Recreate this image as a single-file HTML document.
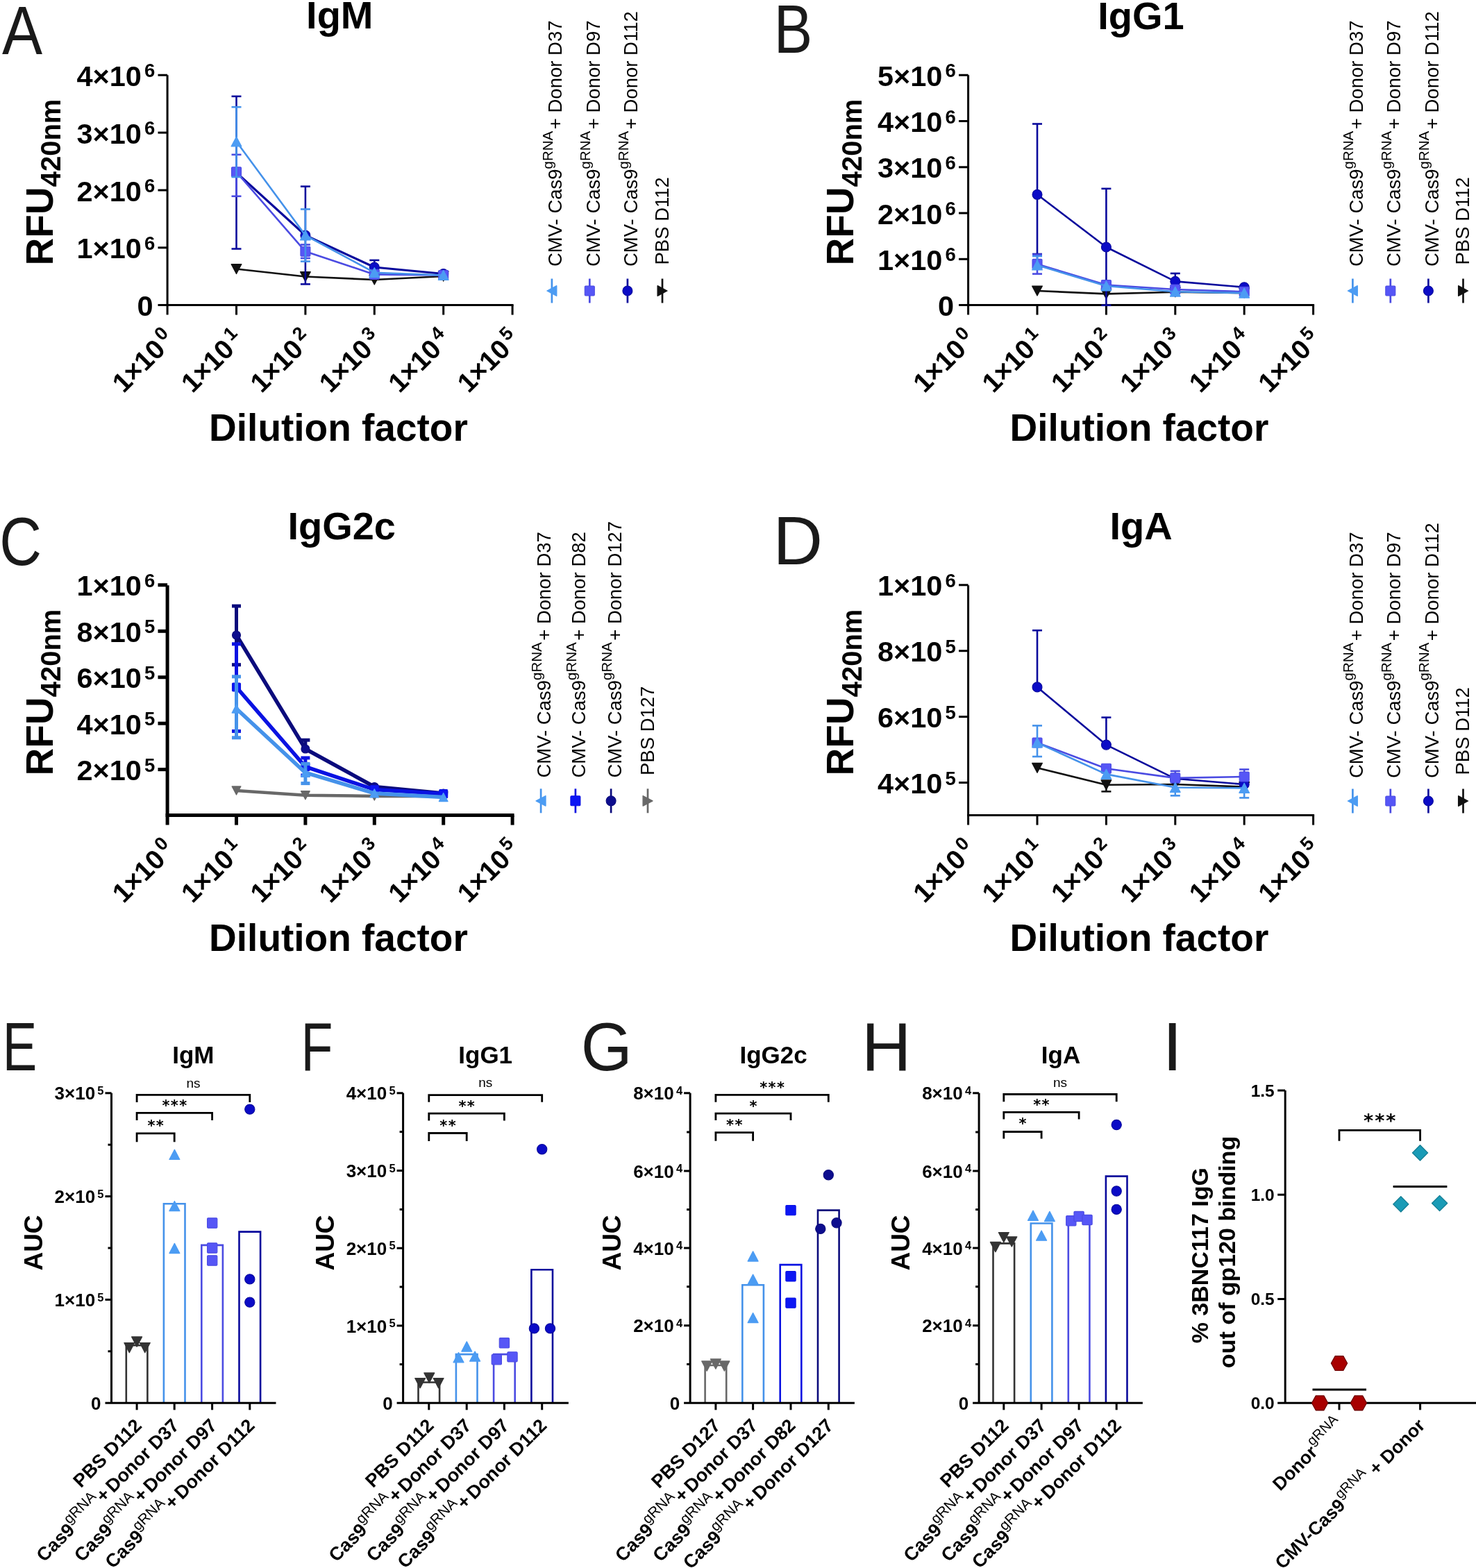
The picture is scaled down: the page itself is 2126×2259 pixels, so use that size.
<!DOCTYPE html><html><head><meta charset="utf-8"><title>Figure</title><style>html,body{margin:0;padding:0;background:#fff;overflow:hidden;}svg{display:block;}</style></head><body>
<svg width="2126" height="2259" viewBox="0 0 2126 2259" font-family='"Liberation Sans", Arial, Helvetica, sans-serif'>
<rect x="0" y="0" width="2126" height="2259" fill="#fff"/>
<text transform="translate(2.9 77.9) scale(0.88 1)" x="0" y="0" font-size="99" font-weight="normal" fill="#1a1a1a">A</text>
<text transform="translate(1114.78 76.3) scale(0.84 1)" x="0" y="0" font-size="99" font-weight="normal" fill="#1a1a1a">B</text>
<text transform="translate(-0.68 813.7) scale(0.85 1)" x="0" y="0" font-size="99" font-weight="normal" fill="#1a1a1a">C</text>
<text transform="translate(1113.47 813.4) scale(1 1)" x="0" y="0" font-size="99" font-weight="normal" fill="#1a1a1a">D</text>
<text transform="translate(3.78 1541.7) scale(0.75 1)" x="0" y="0" font-size="99" font-weight="normal" fill="#1a1a1a">E</text>
<text transform="translate(433.6 1541.7) scale(0.76 1)" x="0" y="0" font-size="99" font-weight="normal" fill="#1a1a1a">F</text>
<text transform="translate(836.74 1541.7) scale(0.96 1)" x="0" y="0" font-size="99" font-weight="normal" fill="#1a1a1a">G</text>
<text transform="translate(1240.97 1541.7) scale(1 1)" x="0" y="0" font-size="99" font-weight="normal" fill="#1a1a1a">H</text>
<text transform="translate(1674.35 1541.7) scale(1.05 1)" x="0" y="0" font-size="99" font-weight="normal" fill="#1a1a1a">I</text>
<line x1="241.1" y1="108.2" x2="241.1" y2="453.6" stroke="#000" stroke-width="3" stroke-linecap="butt"/>
<line x1="227.5" y1="439.6" x2="739.6" y2="439.6" stroke="#000" stroke-width="3" stroke-linecap="butt"/>
<line x1="340.5" y1="439.6" x2="340.5" y2="453.6" stroke="#000" stroke-width="3" stroke-linecap="butt"/>
<line x1="439.9" y1="439.6" x2="439.9" y2="453.6" stroke="#000" stroke-width="3" stroke-linecap="butt"/>
<line x1="539.3" y1="439.6" x2="539.3" y2="453.6" stroke="#000" stroke-width="3" stroke-linecap="butt"/>
<line x1="638.7" y1="439.6" x2="638.7" y2="453.6" stroke="#000" stroke-width="3" stroke-linecap="butt"/>
<line x1="738.1" y1="439.6" x2="738.1" y2="453.6" stroke="#000" stroke-width="3" stroke-linecap="butt"/>
<line x1="227.5" y1="108.2" x2="241.1" y2="108.2" stroke="#000" stroke-width="3" stroke-linecap="butt"/>
<text x="223.4" y="123.8" font-size="41.5" font-weight="bold" text-anchor="end">4×10<tspan font-size="27.5" dx="4.2" dy="-12.6">6</tspan></text>
<line x1="227.5" y1="191.1" x2="241.1" y2="191.1" stroke="#000" stroke-width="3" stroke-linecap="butt"/>
<text x="223.4" y="206.7" font-size="41.5" font-weight="bold" text-anchor="end">3×10<tspan font-size="27.5" dx="4.2" dy="-12.6">6</tspan></text>
<line x1="227.5" y1="274" x2="241.1" y2="274" stroke="#000" stroke-width="3" stroke-linecap="butt"/>
<text x="223.4" y="289.6" font-size="41.5" font-weight="bold" text-anchor="end">2×10<tspan font-size="27.5" dx="4.2" dy="-12.6">6</tspan></text>
<line x1="227.5" y1="356.8" x2="241.1" y2="356.8" stroke="#000" stroke-width="3" stroke-linecap="butt"/>
<text x="223.4" y="372.4" font-size="41.5" font-weight="bold" text-anchor="end">1×10<tspan font-size="27.5" dx="4.2" dy="-12.6">6</tspan></text>
<text x="220.5" y="455.2" font-size="41.5" font-weight="bold" text-anchor="end" fill="#000">0</text>
<g transform="translate(253.9 491.6) rotate(-45)"><text x="0" y="0" font-size="39" font-weight="bold" text-anchor="end">1×10<tspan font-size="27" dx="4.6" dy="-14.2">0</tspan></text></g>
<g transform="translate(353.3 491.6) rotate(-45)"><text x="0" y="0" font-size="39" font-weight="bold" text-anchor="end">1×10<tspan font-size="27" dx="4.6" dy="-14.2">1</tspan></text></g>
<g transform="translate(452.7 491.6) rotate(-45)"><text x="0" y="0" font-size="39" font-weight="bold" text-anchor="end">1×10<tspan font-size="27" dx="4.6" dy="-14.2">2</tspan></text></g>
<g transform="translate(552.1 491.6) rotate(-45)"><text x="0" y="0" font-size="39" font-weight="bold" text-anchor="end">1×10<tspan font-size="27" dx="4.6" dy="-14.2">3</tspan></text></g>
<g transform="translate(651.5 491.6) rotate(-45)"><text x="0" y="0" font-size="39" font-weight="bold" text-anchor="end">1×10<tspan font-size="27" dx="4.6" dy="-14.2">4</tspan></text></g>
<g transform="translate(750.9 491.6) rotate(-45)"><text x="0" y="0" font-size="39" font-weight="bold" text-anchor="end">1×10<tspan font-size="27" dx="4.6" dy="-14.2">5</tspan></text></g>
<g transform="translate(75.5 262.5) rotate(-90)"><text x="0" y="0" font-size="55" font-weight="bold" text-anchor="middle">RFU<tspan font-size="40" dy="11.5">420nm</tspan></text></g>
<text x="487.5" y="635.2" font-size="55" font-weight="bold" text-anchor="middle" fill="#000">Dilution factor</text>
<text x="489.3" y="40.6" font-size="56" font-weight="bold" text-anchor="middle" fill="#000">IgM</text>
<polyline points="340.5,387.5 439.9,398.5 539.3,403 638.7,398" fill="none" stroke="#111111" stroke-width="2.6" stroke-linejoin="round"/>
<polygon points="340.5,394.5 347.8,380.6 333.2,380.6" fill="#111111" stroke="#111111" stroke-width="1.3" stroke-linejoin="round"/>
<polygon points="439.9,405.5 447.2,391.6 432.6,391.6" fill="#111111" stroke="#111111" stroke-width="1.3" stroke-linejoin="round"/>
<polygon points="539.3,410 546.6,396.1 532,396.1" fill="#111111" stroke="#111111" stroke-width="1.3" stroke-linejoin="round"/>
<polygon points="638.7,405 646,391.1 631.4,391.1" fill="#111111" stroke="#111111" stroke-width="1.3" stroke-linejoin="round"/>
<line x1="340.5" y1="248.6" x2="340.5" y2="138.8" stroke="#0a0a9c" stroke-width="2.6" stroke-linecap="butt"/>
<line x1="333.5" y1="138.8" x2="347.5" y2="138.8" stroke="#0a0a9c" stroke-width="2.6" stroke-linecap="butt"/>
<line x1="340.5" y1="248.6" x2="340.5" y2="358.5" stroke="#0a0a9c" stroke-width="2.6" stroke-linecap="butt"/>
<line x1="333.5" y1="358.5" x2="347.5" y2="358.5" stroke="#0a0a9c" stroke-width="2.6" stroke-linecap="butt"/>
<line x1="439.9" y1="339" x2="439.9" y2="268.6" stroke="#0a0a9c" stroke-width="2.6" stroke-linecap="butt"/>
<line x1="432.9" y1="268.6" x2="446.9" y2="268.6" stroke="#0a0a9c" stroke-width="2.6" stroke-linecap="butt"/>
<line x1="439.9" y1="339" x2="439.9" y2="409.4" stroke="#0a0a9c" stroke-width="2.6" stroke-linecap="butt"/>
<line x1="432.9" y1="409.4" x2="446.9" y2="409.4" stroke="#0a0a9c" stroke-width="2.6" stroke-linecap="butt"/>
<line x1="539.3" y1="385" x2="539.3" y2="374.9" stroke="#0a0a9c" stroke-width="2.6" stroke-linecap="butt"/>
<line x1="532.3" y1="374.9" x2="546.3" y2="374.9" stroke="#0a0a9c" stroke-width="2.6" stroke-linecap="butt"/>
<polyline points="340.5,248.6 439.9,339 539.3,385 638.7,394.5" fill="none" stroke="#0a0a9c" stroke-width="3.2" stroke-linejoin="round"/>
<circle cx="340.5" cy="248.6" r="7" fill="#0b0bc6" stroke="#0a0a9c" stroke-width="1.1" stroke-linejoin="round"/>
<circle cx="439.9" cy="339" r="7" fill="#0b0bc6" stroke="#0a0a9c" stroke-width="1.1" stroke-linejoin="round"/>
<circle cx="539.3" cy="385" r="7" fill="#0b0bc6" stroke="#0a0a9c" stroke-width="1.1" stroke-linejoin="round"/>
<circle cx="638.7" cy="394.5" r="7" fill="#0b0bc6" stroke="#0a0a9c" stroke-width="1.1" stroke-linejoin="round"/>
<line x1="340.5" y1="247.8" x2="340.5" y2="222.8" stroke="#4b4be2" stroke-width="2.6" stroke-linecap="butt"/>
<line x1="333.5" y1="222.8" x2="347.5" y2="222.8" stroke="#4b4be2" stroke-width="2.6" stroke-linecap="butt"/>
<line x1="340.5" y1="247.8" x2="340.5" y2="282.7" stroke="#4b4be2" stroke-width="2.6" stroke-linecap="butt"/>
<line x1="333.5" y1="282.7" x2="347.5" y2="282.7" stroke="#4b4be2" stroke-width="2.6" stroke-linecap="butt"/>
<line x1="439.9" y1="362.3" x2="439.9" y2="352.5" stroke="#4b4be2" stroke-width="2.6" stroke-linecap="butt"/>
<line x1="432.9" y1="352.5" x2="446.9" y2="352.5" stroke="#4b4be2" stroke-width="2.6" stroke-linecap="butt"/>
<line x1="439.9" y1="362.3" x2="439.9" y2="372" stroke="#4b4be2" stroke-width="2.6" stroke-linecap="butt"/>
<line x1="432.9" y1="372" x2="446.9" y2="372" stroke="#4b4be2" stroke-width="2.6" stroke-linecap="butt"/>
<polyline points="340.5,247.8 439.9,362.3 539.3,395.4 638.7,396.5" fill="none" stroke="#4b4be2" stroke-width="2.6" stroke-linejoin="round"/>
<rect x="333.5" y="240.8" width="14" height="14" rx="1.2" fill="#5656f6" stroke="#4b4be2" stroke-width="1.1" stroke-linejoin="round"/>
<rect x="432.9" y="355.3" width="14" height="14" rx="1.2" fill="#5656f6" stroke="#4b4be2" stroke-width="1.1" stroke-linejoin="round"/>
<rect x="532.3" y="388.4" width="14" height="14" rx="1.2" fill="#5656f6" stroke="#4b4be2" stroke-width="1.1" stroke-linejoin="round"/>
<rect x="631.7" y="389.5" width="14" height="14" rx="1.2" fill="#5656f6" stroke="#4b4be2" stroke-width="1.1" stroke-linejoin="round"/>
<line x1="340.5" y1="204" x2="340.5" y2="154.2" stroke="#4592ea" stroke-width="2.6" stroke-linecap="butt"/>
<line x1="333.5" y1="154.2" x2="347.5" y2="154.2" stroke="#4592ea" stroke-width="2.6" stroke-linecap="butt"/>
<line x1="340.5" y1="204" x2="340.5" y2="255" stroke="#4592ea" stroke-width="2.6" stroke-linecap="butt"/>
<line x1="333.5" y1="255" x2="347.5" y2="255" stroke="#4592ea" stroke-width="2.6" stroke-linecap="butt"/>
<line x1="439.9" y1="339" x2="439.9" y2="301.4" stroke="#4592ea" stroke-width="2.6" stroke-linecap="butt"/>
<line x1="432.9" y1="301.4" x2="446.9" y2="301.4" stroke="#4592ea" stroke-width="2.6" stroke-linecap="butt"/>
<line x1="439.9" y1="339" x2="439.9" y2="376.6" stroke="#4592ea" stroke-width="2.6" stroke-linecap="butt"/>
<line x1="432.9" y1="376.6" x2="446.9" y2="376.6" stroke="#4592ea" stroke-width="2.6" stroke-linecap="butt"/>
<polyline points="340.5,204 439.9,339 539.3,392.7 638.7,396.5" fill="none" stroke="#4592ea" stroke-width="2.6" stroke-linejoin="round"/>
<polygon points="340.5,197 347.8,210.9 333.2,210.9" fill="#4c9cf3" stroke="#4c9cf3" stroke-width="1.3" stroke-linejoin="round"/>
<polygon points="439.9,332 447.2,345.9 432.6,345.9" fill="#4c9cf3" stroke="#4c9cf3" stroke-width="1.3" stroke-linejoin="round"/>
<polygon points="539.3,385.7 546.6,399.6 532,399.6" fill="#4c9cf3" stroke="#4c9cf3" stroke-width="1.3" stroke-linejoin="round"/>
<polygon points="638.7,389.5 646,403.4 631.4,403.4" fill="#4c9cf3" stroke="#4c9cf3" stroke-width="1.3" stroke-linejoin="round"/>
<line x1="794.9" y1="401.5" x2="794.9" y2="436.5" stroke="#4592ea" stroke-width="2.7" stroke-linecap="butt"/>
<polygon points="794.9,412 802.2,425.9 787.6,425.9" fill="#4c9cf3" stroke="#4c9cf3" stroke-width="1.3" stroke-linejoin="round" transform="rotate(-90 794.9 419)"/>
<g transform="translate(809.4 384) rotate(-90)"><text x="0" y="0" font-size="27.5" font-weight="normal">CMV- Cas9<tspan font-size="20.5" dy="-13.5">gRNA</tspan><tspan dy="13.5" dx="2.5">+ Donor D37</tspan></text></g>
<line x1="849.3" y1="401.5" x2="849.3" y2="436.5" stroke="#4b4be2" stroke-width="2.7" stroke-linecap="butt"/>
<rect x="842.3" y="412" width="14" height="14" rx="1.2" fill="#5656f6" stroke="#4b4be2" stroke-width="1.1" stroke-linejoin="round"/>
<g transform="translate(863.7 384) rotate(-90)"><text x="0" y="0" font-size="27.5" font-weight="normal">CMV- Cas9<tspan font-size="20.5" dy="-13.5">gRNA</tspan><tspan dy="13.5" dx="2.5">+ Donor D97</tspan></text></g>
<line x1="903.9" y1="401.5" x2="903.9" y2="436.5" stroke="#0a0a9c" stroke-width="2.7" stroke-linecap="butt"/>
<circle cx="903.9" cy="419" r="7" fill="#0b0bc6" stroke="#0a0a9c" stroke-width="1.1" stroke-linejoin="round"/>
<g transform="translate(918.1 384) rotate(-90)"><text x="0" y="0" font-size="27.5" font-weight="normal">CMV- Cas9<tspan font-size="20.5" dy="-13.5">gRNA</tspan><tspan dy="13.5" dx="2.5">+ Donor D112</tspan></text></g>
<line x1="954" y1="401.5" x2="954" y2="436.5" stroke="#111111" stroke-width="2.7" stroke-linecap="butt"/>
<polygon points="954,426 961.3,412.1 946.7,412.1" fill="#111111" stroke="#111111" stroke-width="1.3" stroke-linejoin="round" transform="rotate(-90 954 419)"/>
<g transform="translate(962.6 381.5) rotate(-90)"><text x="0" y="0" font-size="27.5" font-weight="normal">PBS D112</text></g>
<line x1="1394.6" y1="108.2" x2="1394.6" y2="453.6" stroke="#000" stroke-width="3" stroke-linecap="butt"/>
<line x1="1381" y1="439.6" x2="1893.1" y2="439.6" stroke="#000" stroke-width="3" stroke-linecap="butt"/>
<line x1="1494" y1="439.6" x2="1494" y2="453.6" stroke="#000" stroke-width="3" stroke-linecap="butt"/>
<line x1="1593.4" y1="439.6" x2="1593.4" y2="453.6" stroke="#000" stroke-width="3" stroke-linecap="butt"/>
<line x1="1692.8" y1="439.6" x2="1692.8" y2="453.6" stroke="#000" stroke-width="3" stroke-linecap="butt"/>
<line x1="1792.2" y1="439.6" x2="1792.2" y2="453.6" stroke="#000" stroke-width="3" stroke-linecap="butt"/>
<line x1="1891.6" y1="439.6" x2="1891.6" y2="453.6" stroke="#000" stroke-width="3" stroke-linecap="butt"/>
<line x1="1381" y1="108.2" x2="1394.6" y2="108.2" stroke="#000" stroke-width="3" stroke-linecap="butt"/>
<text x="1376.9" y="123.8" font-size="41.5" font-weight="bold" text-anchor="end">5×10<tspan font-size="27.5" dx="4.2" dy="-12.6">6</tspan></text>
<line x1="1381" y1="174.5" x2="1394.6" y2="174.5" stroke="#000" stroke-width="3" stroke-linecap="butt"/>
<text x="1376.9" y="190.1" font-size="41.5" font-weight="bold" text-anchor="end">4×10<tspan font-size="27.5" dx="4.2" dy="-12.6">6</tspan></text>
<line x1="1381" y1="240.8" x2="1394.6" y2="240.8" stroke="#000" stroke-width="3" stroke-linecap="butt"/>
<text x="1376.9" y="256.4" font-size="41.5" font-weight="bold" text-anchor="end">3×10<tspan font-size="27.5" dx="4.2" dy="-12.6">6</tspan></text>
<line x1="1381" y1="307" x2="1394.6" y2="307" stroke="#000" stroke-width="3" stroke-linecap="butt"/>
<text x="1376.9" y="322.6" font-size="41.5" font-weight="bold" text-anchor="end">2×10<tspan font-size="27.5" dx="4.2" dy="-12.6">6</tspan></text>
<line x1="1381" y1="373.3" x2="1394.6" y2="373.3" stroke="#000" stroke-width="3" stroke-linecap="butt"/>
<text x="1376.9" y="388.9" font-size="41.5" font-weight="bold" text-anchor="end">1×10<tspan font-size="27.5" dx="4.2" dy="-12.6">6</tspan></text>
<text x="1374" y="455.2" font-size="41.5" font-weight="bold" text-anchor="end" fill="#000">0</text>
<g transform="translate(1407.4 491.6) rotate(-45)"><text x="0" y="0" font-size="39" font-weight="bold" text-anchor="end">1×10<tspan font-size="27" dx="4.6" dy="-14.2">0</tspan></text></g>
<g transform="translate(1506.8 491.6) rotate(-45)"><text x="0" y="0" font-size="39" font-weight="bold" text-anchor="end">1×10<tspan font-size="27" dx="4.6" dy="-14.2">1</tspan></text></g>
<g transform="translate(1606.2 491.6) rotate(-45)"><text x="0" y="0" font-size="39" font-weight="bold" text-anchor="end">1×10<tspan font-size="27" dx="4.6" dy="-14.2">2</tspan></text></g>
<g transform="translate(1705.6 491.6) rotate(-45)"><text x="0" y="0" font-size="39" font-weight="bold" text-anchor="end">1×10<tspan font-size="27" dx="4.6" dy="-14.2">3</tspan></text></g>
<g transform="translate(1805 491.6) rotate(-45)"><text x="0" y="0" font-size="39" font-weight="bold" text-anchor="end">1×10<tspan font-size="27" dx="4.6" dy="-14.2">4</tspan></text></g>
<g transform="translate(1904.4 491.6) rotate(-45)"><text x="0" y="0" font-size="39" font-weight="bold" text-anchor="end">1×10<tspan font-size="27" dx="4.6" dy="-14.2">5</tspan></text></g>
<g transform="translate(1229 262.5) rotate(-90)"><text x="0" y="0" font-size="55" font-weight="bold" text-anchor="middle">RFU<tspan font-size="40" dy="11.5">420nm</tspan></text></g>
<text x="1641" y="635.2" font-size="55" font-weight="bold" text-anchor="middle" fill="#000">Dilution factor</text>
<text x="1643.5" y="41.7" font-size="56" font-weight="bold" text-anchor="middle" fill="#000">IgG1</text>
<polyline points="1494,419 1593.4,423.4 1692.8,420.8 1792.2,422" fill="none" stroke="#111111" stroke-width="2.6" stroke-linejoin="round"/>
<polygon points="1494,426 1501.3,412.1 1486.7,412.1" fill="#111111" stroke="#111111" stroke-width="1.3" stroke-linejoin="round"/>
<polygon points="1593.4,430.4 1600.7,416.5 1586.1,416.5" fill="#111111" stroke="#111111" stroke-width="1.3" stroke-linejoin="round"/>
<polygon points="1692.8,427.8 1700.1,413.9 1685.5,413.9" fill="#111111" stroke="#111111" stroke-width="1.3" stroke-linejoin="round"/>
<polygon points="1792.2,429 1799.5,415.1 1784.9,415.1" fill="#111111" stroke="#111111" stroke-width="1.3" stroke-linejoin="round"/>
<line x1="1494" y1="280.3" x2="1494" y2="178.5" stroke="#0a0a9c" stroke-width="2.6" stroke-linecap="butt"/>
<line x1="1487" y1="178.5" x2="1501" y2="178.5" stroke="#0a0a9c" stroke-width="2.6" stroke-linecap="butt"/>
<line x1="1494" y1="280.3" x2="1494" y2="366" stroke="#0a0a9c" stroke-width="2.6" stroke-linecap="butt"/>
<line x1="1487" y1="366" x2="1501" y2="366" stroke="#0a0a9c" stroke-width="2.6" stroke-linecap="butt"/>
<line x1="1593.4" y1="356" x2="1593.4" y2="271.8" stroke="#0a0a9c" stroke-width="2.6" stroke-linecap="butt"/>
<line x1="1586.4" y1="271.8" x2="1600.4" y2="271.8" stroke="#0a0a9c" stroke-width="2.6" stroke-linecap="butt"/>
<line x1="1593.4" y1="356" x2="1593.4" y2="439.8" stroke="#0a0a9c" stroke-width="2.6" stroke-linecap="butt"/>
<line x1="1586.4" y1="439.8" x2="1600.4" y2="439.8" stroke="#0a0a9c" stroke-width="2.6" stroke-linecap="butt"/>
<line x1="1692.8" y1="405.4" x2="1692.8" y2="393.9" stroke="#0a0a9c" stroke-width="2.6" stroke-linecap="butt"/>
<line x1="1685.8" y1="393.9" x2="1699.8" y2="393.9" stroke="#0a0a9c" stroke-width="2.6" stroke-linecap="butt"/>
<polyline points="1494,280.3 1593.4,356 1692.8,405.4 1792.2,413.8" fill="none" stroke="#0a0a9c" stroke-width="2.6" stroke-linejoin="round"/>
<circle cx="1494" cy="280.3" r="7" fill="#0b0bc6" stroke="#0a0a9c" stroke-width="1.1" stroke-linejoin="round"/>
<circle cx="1593.4" cy="356" r="7" fill="#0b0bc6" stroke="#0a0a9c" stroke-width="1.1" stroke-linejoin="round"/>
<circle cx="1692.8" cy="405.4" r="7" fill="#0b0bc6" stroke="#0a0a9c" stroke-width="1.1" stroke-linejoin="round"/>
<circle cx="1792.2" cy="413.8" r="7" fill="#0b0bc6" stroke="#0a0a9c" stroke-width="1.1" stroke-linejoin="round"/>
<line x1="1494" y1="380.4" x2="1494" y2="366.7" stroke="#4b4be2" stroke-width="2.6" stroke-linecap="butt"/>
<line x1="1487" y1="366.7" x2="1501" y2="366.7" stroke="#4b4be2" stroke-width="2.6" stroke-linecap="butt"/>
<line x1="1494" y1="380.4" x2="1494" y2="394.6" stroke="#4b4be2" stroke-width="2.6" stroke-linecap="butt"/>
<line x1="1487" y1="394.6" x2="1501" y2="394.6" stroke="#4b4be2" stroke-width="2.6" stroke-linecap="butt"/>
<polyline points="1494,380.4 1593.4,410.5 1692.8,417 1792.2,420.2" fill="none" stroke="#4b4be2" stroke-width="2.6" stroke-linejoin="round"/>
<rect x="1487" y="373.4" width="14" height="14" rx="1.2" fill="#5656f6" stroke="#4b4be2" stroke-width="1.1" stroke-linejoin="round"/>
<rect x="1586.4" y="403.5" width="14" height="14" rx="1.2" fill="#5656f6" stroke="#4b4be2" stroke-width="1.1" stroke-linejoin="round"/>
<rect x="1685.8" y="410" width="14" height="14" rx="1.2" fill="#5656f6" stroke="#4b4be2" stroke-width="1.1" stroke-linejoin="round"/>
<rect x="1785.2" y="413.2" width="14" height="14" rx="1.2" fill="#5656f6" stroke="#4b4be2" stroke-width="1.1" stroke-linejoin="round"/>
<line x1="1494" y1="382" x2="1494" y2="369" stroke="#4592ea" stroke-width="2.6" stroke-linecap="butt"/>
<line x1="1487" y1="369" x2="1501" y2="369" stroke="#4592ea" stroke-width="2.6" stroke-linecap="butt"/>
<polyline points="1494,382 1593.4,412 1692.8,420.2 1792.2,422.1" fill="none" stroke="#4592ea" stroke-width="2.6" stroke-linejoin="round"/>
<polygon points="1494,375 1501.3,388.9 1486.7,388.9" fill="#4c9cf3" stroke="#4c9cf3" stroke-width="1.3" stroke-linejoin="round"/>
<polygon points="1593.4,405 1600.7,418.9 1586.1,418.9" fill="#4c9cf3" stroke="#4c9cf3" stroke-width="1.3" stroke-linejoin="round"/>
<polygon points="1692.8,413.2 1700.1,427.1 1685.5,427.1" fill="#4c9cf3" stroke="#4c9cf3" stroke-width="1.3" stroke-linejoin="round"/>
<polygon points="1792.2,415.1 1799.5,429 1784.9,429" fill="#4c9cf3" stroke="#4c9cf3" stroke-width="1.3" stroke-linejoin="round"/>
<line x1="1948.4" y1="401.5" x2="1948.4" y2="436.5" stroke="#4592ea" stroke-width="2.7" stroke-linecap="butt"/>
<polygon points="1948.4,412 1955.7,425.9 1941.1,425.9" fill="#4c9cf3" stroke="#4c9cf3" stroke-width="1.3" stroke-linejoin="round" transform="rotate(-90 1948.4 419)"/>
<g transform="translate(1962.9 384) rotate(-90)"><text x="0" y="0" font-size="27.5" font-weight="normal">CMV- Cas9<tspan font-size="20.5" dy="-13.5">gRNA</tspan><tspan dy="13.5" dx="2.5">+ Donor D37</tspan></text></g>
<line x1="2002.8" y1="401.5" x2="2002.8" y2="436.5" stroke="#4b4be2" stroke-width="2.7" stroke-linecap="butt"/>
<rect x="1995.8" y="412" width="14" height="14" rx="1.2" fill="#5656f6" stroke="#4b4be2" stroke-width="1.1" stroke-linejoin="round"/>
<g transform="translate(2017.2 384) rotate(-90)"><text x="0" y="0" font-size="27.5" font-weight="normal">CMV- Cas9<tspan font-size="20.5" dy="-13.5">gRNA</tspan><tspan dy="13.5" dx="2.5">+ Donor D97</tspan></text></g>
<line x1="2057.4" y1="401.5" x2="2057.4" y2="436.5" stroke="#0a0a9c" stroke-width="2.7" stroke-linecap="butt"/>
<circle cx="2057.4" cy="419" r="7" fill="#0b0bc6" stroke="#0a0a9c" stroke-width="1.1" stroke-linejoin="round"/>
<g transform="translate(2071.6 384) rotate(-90)"><text x="0" y="0" font-size="27.5" font-weight="normal">CMV- Cas9<tspan font-size="20.5" dy="-13.5">gRNA</tspan><tspan dy="13.5" dx="2.5">+ Donor D112</tspan></text></g>
<line x1="2107.5" y1="401.5" x2="2107.5" y2="436.5" stroke="#111111" stroke-width="2.7" stroke-linecap="butt"/>
<polygon points="2107.5,426 2114.8,412.1 2100.2,412.1" fill="#111111" stroke="#111111" stroke-width="1.3" stroke-linejoin="round" transform="rotate(-90 2107.5 419)"/>
<g transform="translate(2116.1 381.5) rotate(-90)"><text x="0" y="0" font-size="27.5" font-weight="normal">PBS D112</text></g>
<line x1="241.1" y1="843.2" x2="241.1" y2="1188.6" stroke="#000" stroke-width="5" stroke-linecap="butt"/>
<line x1="238.6" y1="1174.6" x2="740.6" y2="1174.6" stroke="#000" stroke-width="5" stroke-linecap="butt"/>
<line x1="340.5" y1="1174.6" x2="340.5" y2="1188.6" stroke="#000" stroke-width="5" stroke-linecap="butt"/>
<line x1="439.9" y1="1174.6" x2="439.9" y2="1188.6" stroke="#000" stroke-width="5" stroke-linecap="butt"/>
<line x1="539.3" y1="1174.6" x2="539.3" y2="1188.6" stroke="#000" stroke-width="5" stroke-linecap="butt"/>
<line x1="638.7" y1="1174.6" x2="638.7" y2="1188.6" stroke="#000" stroke-width="5" stroke-linecap="butt"/>
<line x1="738.1" y1="1174.6" x2="738.1" y2="1188.6" stroke="#000" stroke-width="5" stroke-linecap="butt"/>
<line x1="227.5" y1="842.8" x2="241.1" y2="842.8" stroke="#000" stroke-width="5" stroke-linecap="butt"/>
<text x="223.4" y="858.4" font-size="41.5" font-weight="bold" text-anchor="end">1×10<tspan font-size="27.5" dx="4.2" dy="-12.6">6</tspan></text>
<line x1="227.5" y1="909.3" x2="241.1" y2="909.3" stroke="#000" stroke-width="5" stroke-linecap="butt"/>
<text x="223.4" y="924.9" font-size="41.5" font-weight="bold" text-anchor="end">8×10<tspan font-size="27.5" dx="4.2" dy="-12.6">5</tspan></text>
<line x1="227.5" y1="975.7" x2="241.1" y2="975.7" stroke="#000" stroke-width="5" stroke-linecap="butt"/>
<text x="223.4" y="991.3" font-size="41.5" font-weight="bold" text-anchor="end">6×10<tspan font-size="27.5" dx="4.2" dy="-12.6">5</tspan></text>
<line x1="227.5" y1="1042.2" x2="241.1" y2="1042.2" stroke="#000" stroke-width="5" stroke-linecap="butt"/>
<text x="223.4" y="1057.8" font-size="41.5" font-weight="bold" text-anchor="end">4×10<tspan font-size="27.5" dx="4.2" dy="-12.6">5</tspan></text>
<line x1="227.5" y1="1108.6" x2="241.1" y2="1108.6" stroke="#000" stroke-width="5" stroke-linecap="butt"/>
<text x="223.4" y="1124.2" font-size="41.5" font-weight="bold" text-anchor="end">2×10<tspan font-size="27.5" dx="4.2" dy="-12.6">5</tspan></text>
<g transform="translate(253.9 1226.6) rotate(-45)"><text x="0" y="0" font-size="39" font-weight="bold" text-anchor="end">1×10<tspan font-size="27" dx="4.6" dy="-14.2">0</tspan></text></g>
<g transform="translate(353.3 1226.6) rotate(-45)"><text x="0" y="0" font-size="39" font-weight="bold" text-anchor="end">1×10<tspan font-size="27" dx="4.6" dy="-14.2">1</tspan></text></g>
<g transform="translate(452.7 1226.6) rotate(-45)"><text x="0" y="0" font-size="39" font-weight="bold" text-anchor="end">1×10<tspan font-size="27" dx="4.6" dy="-14.2">2</tspan></text></g>
<g transform="translate(552.1 1226.6) rotate(-45)"><text x="0" y="0" font-size="39" font-weight="bold" text-anchor="end">1×10<tspan font-size="27" dx="4.6" dy="-14.2">3</tspan></text></g>
<g transform="translate(651.5 1226.6) rotate(-45)"><text x="0" y="0" font-size="39" font-weight="bold" text-anchor="end">1×10<tspan font-size="27" dx="4.6" dy="-14.2">4</tspan></text></g>
<g transform="translate(750.9 1226.6) rotate(-45)"><text x="0" y="0" font-size="39" font-weight="bold" text-anchor="end">1×10<tspan font-size="27" dx="4.6" dy="-14.2">5</tspan></text></g>
<g transform="translate(75.5 997.5) rotate(-90)"><text x="0" y="0" font-size="55" font-weight="bold" text-anchor="middle">RFU<tspan font-size="40" dy="11.5">420nm</tspan></text></g>
<text x="487.5" y="1370.2" font-size="55" font-weight="bold" text-anchor="middle" fill="#000">Dilution factor</text>
<text x="492.2" y="776.5" font-size="56" font-weight="bold" text-anchor="middle" fill="#000">IgG2c</text>
<polyline points="340.5,1138.9 439.9,1145.7 539.3,1146.9 638.7,1146.9" fill="none" stroke="#686868" stroke-width="4.5" stroke-linejoin="round"/>
<polygon points="340.5,1144.97 346.83,1132.92 334.17,1132.92" fill="#686868" stroke="#686868" stroke-width="1.3" stroke-linejoin="round"/>
<polygon points="439.9,1151.77 446.23,1139.72 433.57,1139.72" fill="#686868" stroke="#686868" stroke-width="1.3" stroke-linejoin="round"/>
<polygon points="539.3,1152.97 545.63,1140.92 532.97,1140.92" fill="#686868" stroke="#686868" stroke-width="1.3" stroke-linejoin="round"/>
<polygon points="638.7,1152.97 645.03,1140.92 632.37,1140.92" fill="#686868" stroke="#686868" stroke-width="1.3" stroke-linejoin="round"/>
<line x1="340.5" y1="915" x2="340.5" y2="873.1" stroke="#0b0b7c" stroke-width="5" stroke-linecap="butt"/>
<line x1="334" y1="873.1" x2="347" y2="873.1" stroke="#0b0b7c" stroke-width="5" stroke-linecap="butt"/>
<line x1="340.5" y1="915" x2="340.5" y2="957.7" stroke="#0b0b7c" stroke-width="5" stroke-linecap="butt"/>
<line x1="334" y1="957.7" x2="347" y2="957.7" stroke="#0b0b7c" stroke-width="5" stroke-linecap="butt"/>
<line x1="439.9" y1="1079" x2="439.9" y2="1066.2" stroke="#0b0b7c" stroke-width="5" stroke-linecap="butt"/>
<line x1="433.4" y1="1066.2" x2="446.4" y2="1066.2" stroke="#0b0b7c" stroke-width="5" stroke-linecap="butt"/>
<polyline points="340.5,915 439.9,1079 539.3,1133.5 638.7,1143" fill="none" stroke="#0b0b7c" stroke-width="5.5" stroke-linejoin="round"/>
<circle cx="340.5" cy="915" r="6" fill="#0d0d8e" stroke="#0b0b7c" stroke-width="1.1" stroke-linejoin="round"/>
<circle cx="439.9" cy="1079" r="6" fill="#0d0d8e" stroke="#0b0b7c" stroke-width="1.1" stroke-linejoin="round"/>
<circle cx="539.3" cy="1133.5" r="6" fill="#0d0d8e" stroke="#0b0b7c" stroke-width="1.1" stroke-linejoin="round"/>
<circle cx="638.7" cy="1143" r="6" fill="#0d0d8e" stroke="#0b0b7c" stroke-width="1.1" stroke-linejoin="round"/>
<line x1="340.5" y1="990" x2="340.5" y2="927.8" stroke="#0a12e2" stroke-width="5" stroke-linecap="butt"/>
<line x1="334" y1="927.8" x2="347" y2="927.8" stroke="#0a12e2" stroke-width="5" stroke-linecap="butt"/>
<line x1="340.5" y1="990" x2="340.5" y2="1053.4" stroke="#0a12e2" stroke-width="5" stroke-linecap="butt"/>
<line x1="334" y1="1053.4" x2="347" y2="1053.4" stroke="#0a12e2" stroke-width="5" stroke-linecap="butt"/>
<line x1="439.9" y1="1104.7" x2="439.9" y2="1091.9" stroke="#0a12e2" stroke-width="5" stroke-linecap="butt"/>
<line x1="433.4" y1="1091.9" x2="446.4" y2="1091.9" stroke="#0a12e2" stroke-width="5" stroke-linecap="butt"/>
<line x1="439.9" y1="1104.7" x2="439.9" y2="1117" stroke="#0a12e2" stroke-width="5" stroke-linecap="butt"/>
<line x1="433.4" y1="1117" x2="446.4" y2="1117" stroke="#0a12e2" stroke-width="5" stroke-linecap="butt"/>
<polyline points="340.5,990 439.9,1104.7 539.3,1137.5 638.7,1143.6" fill="none" stroke="#0a12e2" stroke-width="5.5" stroke-linejoin="round"/>
<rect x="334.5" y="984" width="12" height="12" rx="1.2" fill="#0c16f4" stroke="#0a12e2" stroke-width="1.1" stroke-linejoin="round"/>
<rect x="433.9" y="1098.7" width="12" height="12" rx="1.2" fill="#0c16f4" stroke="#0a12e2" stroke-width="1.1" stroke-linejoin="round"/>
<rect x="533.3" y="1131.5" width="12" height="12" rx="1.2" fill="#0c16f4" stroke="#0a12e2" stroke-width="1.1" stroke-linejoin="round"/>
<rect x="632.7" y="1137.6" width="12" height="12" rx="1.2" fill="#0c16f4" stroke="#0a12e2" stroke-width="1.1" stroke-linejoin="round"/>
<line x1="340.5" y1="1021" x2="340.5" y2="974.8" stroke="#4592ea" stroke-width="5" stroke-linecap="butt"/>
<line x1="334" y1="974.8" x2="347" y2="974.8" stroke="#4592ea" stroke-width="5" stroke-linecap="butt"/>
<line x1="340.5" y1="1021" x2="340.5" y2="1062.8" stroke="#4592ea" stroke-width="5" stroke-linecap="butt"/>
<line x1="334" y1="1062.8" x2="347" y2="1062.8" stroke="#4592ea" stroke-width="5" stroke-linecap="butt"/>
<line x1="439.9" y1="1113.2" x2="439.9" y2="1100.4" stroke="#4592ea" stroke-width="5" stroke-linecap="butt"/>
<line x1="433.4" y1="1100.4" x2="446.4" y2="1100.4" stroke="#4592ea" stroke-width="5" stroke-linecap="butt"/>
<line x1="439.9" y1="1113.2" x2="439.9" y2="1128.6" stroke="#4592ea" stroke-width="5" stroke-linecap="butt"/>
<line x1="433.4" y1="1128.6" x2="446.4" y2="1128.6" stroke="#4592ea" stroke-width="5" stroke-linecap="butt"/>
<polyline points="340.5,1021 439.9,1113.2 539.3,1142.9 638.7,1148.6" fill="none" stroke="#4592ea" stroke-width="5.5" stroke-linejoin="round"/>
<polygon points="340.5,1014.93 346.83,1026.98 334.17,1026.98" fill="#4c9cf3" stroke="#4c9cf3" stroke-width="1.3" stroke-linejoin="round"/>
<polygon points="439.9,1107.13 446.23,1119.18 433.57,1119.18" fill="#4c9cf3" stroke="#4c9cf3" stroke-width="1.3" stroke-linejoin="round"/>
<polygon points="539.3,1136.83 545.63,1148.88 532.97,1148.88" fill="#4c9cf3" stroke="#4c9cf3" stroke-width="1.3" stroke-linejoin="round"/>
<polygon points="638.7,1142.53 645.03,1154.58 632.37,1154.58" fill="#4c9cf3" stroke="#4c9cf3" stroke-width="1.3" stroke-linejoin="round"/>
<line x1="779.1" y1="1136.3" x2="779.1" y2="1171.3" stroke="#4592ea" stroke-width="2.7" stroke-linecap="butt"/>
<polygon points="779.1,1146.8 786.4,1160.7 771.8,1160.7" fill="#4c9cf3" stroke="#4c9cf3" stroke-width="1.3" stroke-linejoin="round" transform="rotate(-90 779.1 1153.8)"/>
<g transform="translate(793.3 1120.6) rotate(-90)"><text x="0" y="0" font-size="27.5" font-weight="normal">CMV- Cas9<tspan font-size="20.5" dy="-13.5">gRNA</tspan><tspan dy="13.5" dx="2.5">+ Donor D37</tspan></text></g>
<line x1="828.9" y1="1136.3" x2="828.9" y2="1171.3" stroke="#0a12e2" stroke-width="2.7" stroke-linecap="butt"/>
<rect x="821.9" y="1146.8" width="14" height="14" rx="1.2" fill="#0c16f4" stroke="#0a12e2" stroke-width="1.1" stroke-linejoin="round"/>
<g transform="translate(843 1120.6) rotate(-90)"><text x="0" y="0" font-size="27.5" font-weight="normal">CMV- Cas9<tspan font-size="20.5" dy="-13.5">gRNA</tspan><tspan dy="13.5" dx="2.5">+ Donor D82</tspan></text></g>
<line x1="880.1" y1="1136.3" x2="880.1" y2="1171.3" stroke="#0b0b7c" stroke-width="2.7" stroke-linecap="butt"/>
<circle cx="880.1" cy="1153.8" r="7" fill="#0d0d8e" stroke="#0b0b7c" stroke-width="1.1" stroke-linejoin="round"/>
<g transform="translate(894.6 1120.6) rotate(-90)"><text x="0" y="0" font-size="27.5" font-weight="normal">CMV- Cas9<tspan font-size="20.5" dy="-13.5">gRNA</tspan><tspan dy="13.5" dx="2.5">+ Donor D127</tspan></text></g>
<line x1="933" y1="1136.3" x2="933" y2="1171.3" stroke="#686868" stroke-width="2.7" stroke-linecap="butt"/>
<polygon points="933,1160.8 940.3,1146.9 925.7,1146.9" fill="#686868" stroke="#686868" stroke-width="1.3" stroke-linejoin="round" transform="rotate(-90 933 1153.8)"/>
<g transform="translate(941.8 1117) rotate(-90)"><text x="0" y="0" font-size="27.5" font-weight="normal">PBS D127</text></g>
<line x1="1394.6" y1="843.2" x2="1394.6" y2="1188.6" stroke="#000" stroke-width="3" stroke-linecap="butt"/>
<line x1="1393.1" y1="1174.6" x2="1893.1" y2="1174.6" stroke="#000" stroke-width="3" stroke-linecap="butt"/>
<line x1="1494" y1="1174.6" x2="1494" y2="1188.6" stroke="#000" stroke-width="3" stroke-linecap="butt"/>
<line x1="1593.4" y1="1174.6" x2="1593.4" y2="1188.6" stroke="#000" stroke-width="3" stroke-linecap="butt"/>
<line x1="1692.8" y1="1174.6" x2="1692.8" y2="1188.6" stroke="#000" stroke-width="3" stroke-linecap="butt"/>
<line x1="1792.2" y1="1174.6" x2="1792.2" y2="1188.6" stroke="#000" stroke-width="3" stroke-linecap="butt"/>
<line x1="1891.6" y1="1174.6" x2="1891.6" y2="1188.6" stroke="#000" stroke-width="3" stroke-linecap="butt"/>
<line x1="1381" y1="842.8" x2="1394.6" y2="842.8" stroke="#000" stroke-width="3" stroke-linecap="butt"/>
<text x="1376.9" y="858.4" font-size="41.5" font-weight="bold" text-anchor="end">1×10<tspan font-size="27.5" dx="4.2" dy="-12.6">6</tspan></text>
<line x1="1381" y1="937.7" x2="1394.6" y2="937.7" stroke="#000" stroke-width="3" stroke-linecap="butt"/>
<text x="1376.9" y="953.3" font-size="41.5" font-weight="bold" text-anchor="end">8×10<tspan font-size="27.5" dx="4.2" dy="-12.6">5</tspan></text>
<line x1="1381" y1="1032.6" x2="1394.6" y2="1032.6" stroke="#000" stroke-width="3" stroke-linecap="butt"/>
<text x="1376.9" y="1048.2" font-size="41.5" font-weight="bold" text-anchor="end">6×10<tspan font-size="27.5" dx="4.2" dy="-12.6">5</tspan></text>
<line x1="1381" y1="1127.5" x2="1394.6" y2="1127.5" stroke="#000" stroke-width="3" stroke-linecap="butt"/>
<text x="1376.9" y="1143.1" font-size="41.5" font-weight="bold" text-anchor="end">4×10<tspan font-size="27.5" dx="4.2" dy="-12.6">5</tspan></text>
<g transform="translate(1407.4 1226.6) rotate(-45)"><text x="0" y="0" font-size="39" font-weight="bold" text-anchor="end">1×10<tspan font-size="27" dx="4.6" dy="-14.2">0</tspan></text></g>
<g transform="translate(1506.8 1226.6) rotate(-45)"><text x="0" y="0" font-size="39" font-weight="bold" text-anchor="end">1×10<tspan font-size="27" dx="4.6" dy="-14.2">1</tspan></text></g>
<g transform="translate(1606.2 1226.6) rotate(-45)"><text x="0" y="0" font-size="39" font-weight="bold" text-anchor="end">1×10<tspan font-size="27" dx="4.6" dy="-14.2">2</tspan></text></g>
<g transform="translate(1705.6 1226.6) rotate(-45)"><text x="0" y="0" font-size="39" font-weight="bold" text-anchor="end">1×10<tspan font-size="27" dx="4.6" dy="-14.2">3</tspan></text></g>
<g transform="translate(1805 1226.6) rotate(-45)"><text x="0" y="0" font-size="39" font-weight="bold" text-anchor="end">1×10<tspan font-size="27" dx="4.6" dy="-14.2">4</tspan></text></g>
<g transform="translate(1904.4 1226.6) rotate(-45)"><text x="0" y="0" font-size="39" font-weight="bold" text-anchor="end">1×10<tspan font-size="27" dx="4.6" dy="-14.2">5</tspan></text></g>
<g transform="translate(1229 997.5) rotate(-90)"><text x="0" y="0" font-size="55" font-weight="bold" text-anchor="middle">RFU<tspan font-size="40" dy="11.5">420nm</tspan></text></g>
<text x="1641" y="1370.2" font-size="55" font-weight="bold" text-anchor="middle" fill="#000">Dilution factor</text>
<text x="1643.5" y="776.5" font-size="56" font-weight="bold" text-anchor="middle" fill="#000">IgA</text>
<line x1="1593.4" y1="1130.8" x2="1593.4" y2="1140.3" stroke="#111111" stroke-width="2.6" stroke-linecap="butt"/>
<line x1="1586.4" y1="1140.3" x2="1600.4" y2="1140.3" stroke="#111111" stroke-width="2.6" stroke-linecap="butt"/>
<polyline points="1494,1106.3 1593.4,1130.8 1692.8,1130 1792.2,1133.6" fill="none" stroke="#111111" stroke-width="2.6" stroke-linejoin="round"/>
<polygon points="1494,1113.3 1501.3,1099.4 1486.7,1099.4" fill="#111111" stroke="#111111" stroke-width="1.3" stroke-linejoin="round"/>
<polygon points="1593.4,1137.8 1600.7,1123.9 1586.1,1123.9" fill="#111111" stroke="#111111" stroke-width="1.3" stroke-linejoin="round"/>
<polygon points="1692.8,1137 1700.1,1123.1 1685.5,1123.1" fill="#111111" stroke="#111111" stroke-width="1.3" stroke-linejoin="round"/>
<polygon points="1792.2,1140.6 1799.5,1126.7 1784.9,1126.7" fill="#111111" stroke="#111111" stroke-width="1.3" stroke-linejoin="round"/>
<line x1="1494" y1="989.9" x2="1494" y2="908.2" stroke="#0a0a9c" stroke-width="2.6" stroke-linecap="butt"/>
<line x1="1487" y1="908.2" x2="1501" y2="908.2" stroke="#0a0a9c" stroke-width="2.6" stroke-linecap="butt"/>
<line x1="1593.4" y1="1073.1" x2="1593.4" y2="1033.6" stroke="#0a0a9c" stroke-width="2.6" stroke-linecap="butt"/>
<line x1="1586.4" y1="1033.6" x2="1600.4" y2="1033.6" stroke="#0a0a9c" stroke-width="2.6" stroke-linecap="butt"/>
<polyline points="1494,989.9 1593.4,1073.1 1692.8,1121.8 1792.2,1130" fill="none" stroke="#0a0a9c" stroke-width="2.6" stroke-linejoin="round"/>
<circle cx="1494" cy="989.9" r="7" fill="#0b0bc6" stroke="#0a0a9c" stroke-width="1.1" stroke-linejoin="round"/>
<circle cx="1593.4" cy="1073.1" r="7" fill="#0b0bc6" stroke="#0a0a9c" stroke-width="1.1" stroke-linejoin="round"/>
<circle cx="1692.8" cy="1121.8" r="7" fill="#0b0bc6" stroke="#0a0a9c" stroke-width="1.1" stroke-linejoin="round"/>
<circle cx="1792.2" cy="1130" r="7" fill="#0b0bc6" stroke="#0a0a9c" stroke-width="1.1" stroke-linejoin="round"/>
<line x1="1692.8" y1="1120.9" x2="1692.8" y2="1110.9" stroke="#4b4be2" stroke-width="2.6" stroke-linecap="butt"/>
<line x1="1685.8" y1="1110.9" x2="1699.8" y2="1110.9" stroke="#4b4be2" stroke-width="2.6" stroke-linecap="butt"/>
<line x1="1792.2" y1="1119" x2="1792.2" y2="1108.5" stroke="#4b4be2" stroke-width="2.6" stroke-linecap="butt"/>
<line x1="1785.2" y1="1108.5" x2="1799.2" y2="1108.5" stroke="#4b4be2" stroke-width="2.6" stroke-linecap="butt"/>
<polyline points="1494,1070 1593.4,1107.2 1692.8,1120.9 1792.2,1119" fill="none" stroke="#4b4be2" stroke-width="2.6" stroke-linejoin="round"/>
<rect x="1487" y="1063" width="14" height="14" rx="1.2" fill="#5656f6" stroke="#4b4be2" stroke-width="1.1" stroke-linejoin="round"/>
<rect x="1586.4" y="1100.2" width="14" height="14" rx="1.2" fill="#5656f6" stroke="#4b4be2" stroke-width="1.1" stroke-linejoin="round"/>
<rect x="1685.8" y="1113.9" width="14" height="14" rx="1.2" fill="#5656f6" stroke="#4b4be2" stroke-width="1.1" stroke-linejoin="round"/>
<rect x="1785.2" y="1112" width="14" height="14" rx="1.2" fill="#5656f6" stroke="#4b4be2" stroke-width="1.1" stroke-linejoin="round"/>
<line x1="1494" y1="1070" x2="1494" y2="1045.4" stroke="#4592ea" stroke-width="2.6" stroke-linecap="butt"/>
<line x1="1487" y1="1045.4" x2="1501" y2="1045.4" stroke="#4592ea" stroke-width="2.6" stroke-linecap="butt"/>
<line x1="1494" y1="1070" x2="1494" y2="1090" stroke="#4592ea" stroke-width="2.6" stroke-linecap="butt"/>
<line x1="1487" y1="1090" x2="1501" y2="1090" stroke="#4592ea" stroke-width="2.6" stroke-linecap="butt"/>
<line x1="1692.8" y1="1134.5" x2="1692.8" y2="1146.3" stroke="#4592ea" stroke-width="2.6" stroke-linecap="butt"/>
<line x1="1685.8" y1="1146.3" x2="1699.8" y2="1146.3" stroke="#4592ea" stroke-width="2.6" stroke-linecap="butt"/>
<line x1="1792.2" y1="1135.4" x2="1792.2" y2="1149.4" stroke="#4592ea" stroke-width="2.6" stroke-linecap="butt"/>
<line x1="1785.2" y1="1149.4" x2="1799.2" y2="1149.4" stroke="#4592ea" stroke-width="2.6" stroke-linecap="butt"/>
<polyline points="1494,1070 1593.4,1115.4 1692.8,1134.5 1792.2,1135.4" fill="none" stroke="#4592ea" stroke-width="2.6" stroke-linejoin="round"/>
<polygon points="1494,1063 1501.3,1076.9 1486.7,1076.9" fill="#4c9cf3" stroke="#4c9cf3" stroke-width="1.3" stroke-linejoin="round"/>
<polygon points="1593.4,1108.4 1600.7,1122.3 1586.1,1122.3" fill="#4c9cf3" stroke="#4c9cf3" stroke-width="1.3" stroke-linejoin="round"/>
<polygon points="1692.8,1127.5 1700.1,1141.4 1685.5,1141.4" fill="#4c9cf3" stroke="#4c9cf3" stroke-width="1.3" stroke-linejoin="round"/>
<polygon points="1792.2,1128.4 1799.5,1142.3 1784.9,1142.3" fill="#4c9cf3" stroke="#4c9cf3" stroke-width="1.3" stroke-linejoin="round"/>
<line x1="1948.4" y1="1136.5" x2="1948.4" y2="1171.5" stroke="#4592ea" stroke-width="2.7" stroke-linecap="butt"/>
<polygon points="1948.4,1147 1955.7,1160.9 1941.1,1160.9" fill="#4c9cf3" stroke="#4c9cf3" stroke-width="1.3" stroke-linejoin="round" transform="rotate(-90 1948.4 1154)"/>
<g transform="translate(1962.9 1121) rotate(-90)"><text x="0" y="0" font-size="27.5" font-weight="normal">CMV- Cas9<tspan font-size="20.5" dy="-13.5">gRNA</tspan><tspan dy="13.5" dx="2.5">+ Donor D37</tspan></text></g>
<line x1="2002.8" y1="1136.5" x2="2002.8" y2="1171.5" stroke="#4b4be2" stroke-width="2.7" stroke-linecap="butt"/>
<rect x="1995.8" y="1147" width="14" height="14" rx="1.2" fill="#5656f6" stroke="#4b4be2" stroke-width="1.1" stroke-linejoin="round"/>
<g transform="translate(2017.2 1121) rotate(-90)"><text x="0" y="0" font-size="27.5" font-weight="normal">CMV- Cas9<tspan font-size="20.5" dy="-13.5">gRNA</tspan><tspan dy="13.5" dx="2.5">+ Donor D97</tspan></text></g>
<line x1="2057.4" y1="1136.5" x2="2057.4" y2="1171.5" stroke="#0a0a9c" stroke-width="2.7" stroke-linecap="butt"/>
<circle cx="2057.4" cy="1154" r="7" fill="#0b0bc6" stroke="#0a0a9c" stroke-width="1.1" stroke-linejoin="round"/>
<g transform="translate(2071.6 1121) rotate(-90)"><text x="0" y="0" font-size="27.5" font-weight="normal">CMV- Cas9<tspan font-size="20.5" dy="-13.5">gRNA</tspan><tspan dy="13.5" dx="2.5">+ Donor D112</tspan></text></g>
<line x1="2107.5" y1="1136.5" x2="2107.5" y2="1171.5" stroke="#111111" stroke-width="2.7" stroke-linecap="butt"/>
<polygon points="2107.5,1161 2114.8,1147.1 2100.2,1147.1" fill="#111111" stroke="#111111" stroke-width="1.3" stroke-linejoin="round" transform="rotate(-90 2107.5 1154)"/>
<g transform="translate(2116.1 1116.5) rotate(-90)"><text x="0" y="0" font-size="27.5" font-weight="normal">PBS D112</text></g>
<path d="M181.8 2021.3V1938.2H212.4V2021.3" fill="none" stroke="#333333" stroke-width="2.6" stroke-linejoin="miter"/>
<path d="M235.9 2021.3V1734.2H266.5V2021.3" fill="none" stroke="#4592ea" stroke-width="2.6" stroke-linejoin="miter"/>
<path d="M290.3 2021.3V1793.9H320.9V2021.3" fill="none" stroke="#4b4be2" stroke-width="2.6" stroke-linejoin="miter"/>
<path d="M344.5 2021.3V1774.6H375.1V2021.3" fill="none" stroke="#0a0a9c" stroke-width="2.6" stroke-linejoin="miter"/>
<line x1="160.5" y1="1574.8" x2="160.5" y2="2021.3" stroke="#000" stroke-width="3" stroke-linecap="butt"/>
<line x1="151.5" y1="2021.3" x2="397.5" y2="2021.3" stroke="#000" stroke-width="3" stroke-linecap="butt"/>
<line x1="197.1" y1="2021.3" x2="197.1" y2="2031.3" stroke="#000" stroke-width="3" stroke-linecap="butt"/>
<line x1="251.2" y1="2021.3" x2="251.2" y2="2031.3" stroke="#000" stroke-width="3" stroke-linecap="butt"/>
<line x1="305.6" y1="2021.3" x2="305.6" y2="2031.3" stroke="#000" stroke-width="3" stroke-linecap="butt"/>
<line x1="359.8" y1="2021.3" x2="359.8" y2="2031.3" stroke="#000" stroke-width="3" stroke-linecap="butt"/>
<line x1="151.5" y1="1574.8" x2="160.5" y2="1574.8" stroke="#000" stroke-width="3" stroke-linecap="butt"/>
<text x="149.5" y="1584.4" font-size="26" font-weight="bold" text-anchor="end">3×10<tspan font-size="16.5" dx="3.2" dy="-7.5">5</tspan></text>
<line x1="155.5" y1="1649.2" x2="160.5" y2="1649.2" stroke="#000" stroke-width="3" stroke-linecap="butt"/>
<line x1="151.5" y1="1723.6" x2="160.5" y2="1723.6" stroke="#000" stroke-width="3" stroke-linecap="butt"/>
<text x="149.5" y="1733.2" font-size="26" font-weight="bold" text-anchor="end">2×10<tspan font-size="16.5" dx="3.2" dy="-7.5">5</tspan></text>
<line x1="155.5" y1="1798" x2="160.5" y2="1798" stroke="#000" stroke-width="3" stroke-linecap="butt"/>
<line x1="151.5" y1="1872.4" x2="160.5" y2="1872.4" stroke="#000" stroke-width="3" stroke-linecap="butt"/>
<text x="149.5" y="1882" font-size="26" font-weight="bold" text-anchor="end">1×10<tspan font-size="16.5" dx="3.2" dy="-7.5">5</tspan></text>
<line x1="155.5" y1="1946.8" x2="160.5" y2="1946.8" stroke="#000" stroke-width="3" stroke-linecap="butt"/>
<text x="145.5" y="2030.9" font-size="26" font-weight="bold" text-anchor="end" fill="#000">0</text>
<g transform="translate(60.5 1790.5) rotate(-90)"><text x="0" y="0" font-size="37" font-weight="bold" text-anchor="middle">AUC</text></g>
<text x="278.3" y="1531.5" font-size="35" font-weight="bold" text-anchor="middle" fill="#000">IgM</text>
<polygon points="186.3,1948.74 193.75,1934.56 178.85,1934.56" fill="#333333" stroke="#333333" stroke-width="1.3" stroke-linejoin="round"/>
<polygon points="197.1,1940.14 204.55,1925.96 189.65,1925.96" fill="#333333" stroke="#333333" stroke-width="1.3" stroke-linejoin="round"/>
<polygon points="208.8,1948.74 216.25,1934.56 201.35,1934.56" fill="#333333" stroke="#333333" stroke-width="1.3" stroke-linejoin="round"/>
<polygon points="251.4,1656.26 258.85,1670.44 243.95,1670.44" fill="#4c9cf3" stroke="#4c9cf3" stroke-width="1.3" stroke-linejoin="round"/>
<polygon points="251.4,1730.46 258.85,1744.64 243.95,1744.64" fill="#4c9cf3" stroke="#4c9cf3" stroke-width="1.3" stroke-linejoin="round"/>
<polygon points="251.4,1791.36 258.85,1805.54 243.95,1805.54" fill="#4c9cf3" stroke="#4c9cf3" stroke-width="1.3" stroke-linejoin="round"/>
<rect x="298.55" y="1754.85" width="14.3" height="14.3" rx="1.2" fill="#5656f6" stroke="#4b4be2" stroke-width="1.1" stroke-linejoin="round"/>
<rect x="298.55" y="1790.85" width="14.3" height="14.3" rx="1.2" fill="#5656f6" stroke="#4b4be2" stroke-width="1.1" stroke-linejoin="round"/>
<rect x="298.55" y="1808.85" width="14.3" height="14.3" rx="1.2" fill="#5656f6" stroke="#4b4be2" stroke-width="1.1" stroke-linejoin="round"/>
<circle cx="359.8" cy="1598.1" r="7.15" fill="#0b0bc6" stroke="#0a0a9c" stroke-width="1.1" stroke-linejoin="round"/>
<circle cx="359.8" cy="1842.9" r="7.15" fill="#0b0bc6" stroke="#0a0a9c" stroke-width="1.1" stroke-linejoin="round"/>
<circle cx="359.8" cy="1876.1" r="7.15" fill="#0b0bc6" stroke="#0a0a9c" stroke-width="1.1" stroke-linejoin="round"/>
<polyline points="197.1,1587.9 197.1,1577.4 359.8,1577.4 359.8,1587.9" fill="none" stroke="#000" stroke-width="2.8"/>
<text x="278.45" y="1567.3" font-size="19" font-weight="normal" text-anchor="middle" fill="#000">ns</text>
<polyline points="197.1,1613.9 197.1,1603.4 305.6,1603.4 305.6,1613.9" fill="none" stroke="#000" stroke-width="2.8"/>
<text x="252" y="1599.92" font-size="21" font-weight="bold" letter-spacing="1.3" font-family="'DejaVu Sans', sans-serif" text-anchor="middle">***</text>
<polyline points="197.1,1645.3 197.1,1632.8 251.2,1632.8 251.2,1645.3" fill="none" stroke="#000" stroke-width="2.8"/>
<text x="224.8" y="1628.82" font-size="21" font-weight="bold" letter-spacing="1.3" font-family="'DejaVu Sans', sans-serif" text-anchor="middle">**</text>
<g transform="translate(205.6 2055.3) rotate(-45)"><text x="0" y="0" font-size="27" font-weight="bold" text-anchor="end">PBS D112</text></g>
<g transform="translate(259.7 2055.3) rotate(-45)"><text x="0" y="0" font-size="27" font-weight="bold" text-anchor="end">Cas9<tspan font-weight="normal" font-size="21" dy="-13">gRNA</tspan><tspan dy="13" dx="0.5">+</tspan><tspan dx="4">Donor D37</tspan></text></g>
<g transform="translate(314.1 2055.3) rotate(-45)"><text x="0" y="0" font-size="27" font-weight="bold" text-anchor="end">Cas9<tspan font-weight="normal" font-size="21" dy="-13">gRNA</tspan><tspan dy="13" dx="0.5">+</tspan><tspan dx="4">Donor D97</tspan></text></g>
<g transform="translate(368.3 2055.3) rotate(-45)"><text x="0" y="0" font-size="27" font-weight="bold" text-anchor="end">Cas9<tspan font-weight="normal" font-size="21" dy="-13">gRNA</tspan><tspan dy="13" dx="0.5">+</tspan><tspan dx="4">Donor D112</tspan></text></g>
<path d="M602.5 2021.3V1991.5H633.1V2021.3" fill="none" stroke="#333333" stroke-width="2.6" stroke-linejoin="miter"/>
<path d="M656.9 2021.3V1951.1H687.5V2021.3" fill="none" stroke="#4592ea" stroke-width="2.6" stroke-linejoin="miter"/>
<path d="M711.1 2021.3V1951.1H741.7V2021.3" fill="none" stroke="#4b4be2" stroke-width="2.6" stroke-linejoin="miter"/>
<path d="M765.4 2021.3V1829.2H796V2021.3" fill="none" stroke="#0a0a9c" stroke-width="2.6" stroke-linejoin="miter"/>
<line x1="580.6" y1="1574.8" x2="580.6" y2="2021.3" stroke="#000" stroke-width="3" stroke-linecap="butt"/>
<line x1="571.6" y1="2021.3" x2="818.9" y2="2021.3" stroke="#000" stroke-width="3" stroke-linecap="butt"/>
<line x1="617.8" y1="2021.3" x2="617.8" y2="2031.3" stroke="#000" stroke-width="3" stroke-linecap="butt"/>
<line x1="672.2" y1="2021.3" x2="672.2" y2="2031.3" stroke="#000" stroke-width="3" stroke-linecap="butt"/>
<line x1="726.4" y1="2021.3" x2="726.4" y2="2031.3" stroke="#000" stroke-width="3" stroke-linecap="butt"/>
<line x1="780.7" y1="2021.3" x2="780.7" y2="2031.3" stroke="#000" stroke-width="3" stroke-linecap="butt"/>
<line x1="571.6" y1="1574.8" x2="580.6" y2="1574.8" stroke="#000" stroke-width="3" stroke-linecap="butt"/>
<text x="569.6" y="1584.4" font-size="26" font-weight="bold" text-anchor="end">4×10<tspan font-size="16.5" dx="3.2" dy="-7.5">5</tspan></text>
<line x1="575.6" y1="1630.6" x2="580.6" y2="1630.6" stroke="#000" stroke-width="3" stroke-linecap="butt"/>
<line x1="571.6" y1="1686.5" x2="580.6" y2="1686.5" stroke="#000" stroke-width="3" stroke-linecap="butt"/>
<text x="569.6" y="1696.1" font-size="26" font-weight="bold" text-anchor="end">3×10<tspan font-size="16.5" dx="3.2" dy="-7.5">5</tspan></text>
<line x1="575.6" y1="1742.4" x2="580.6" y2="1742.4" stroke="#000" stroke-width="3" stroke-linecap="butt"/>
<line x1="571.6" y1="1798.2" x2="580.6" y2="1798.2" stroke="#000" stroke-width="3" stroke-linecap="butt"/>
<text x="569.6" y="1807.8" font-size="26" font-weight="bold" text-anchor="end">2×10<tspan font-size="16.5" dx="3.2" dy="-7.5">5</tspan></text>
<line x1="575.6" y1="1854" x2="580.6" y2="1854" stroke="#000" stroke-width="3" stroke-linecap="butt"/>
<line x1="571.6" y1="1909.9" x2="580.6" y2="1909.9" stroke="#000" stroke-width="3" stroke-linecap="butt"/>
<text x="569.6" y="1919.5" font-size="26" font-weight="bold" text-anchor="end">1×10<tspan font-size="16.5" dx="3.2" dy="-7.5">5</tspan></text>
<line x1="575.6" y1="1965.6" x2="580.6" y2="1965.6" stroke="#000" stroke-width="3" stroke-linecap="butt"/>
<text x="565.6" y="2030.9" font-size="26" font-weight="bold" text-anchor="end" fill="#000">0</text>
<g transform="translate(480.6 1790.5) rotate(-90)"><text x="0" y="0" font-size="37" font-weight="bold" text-anchor="middle">AUC</text></g>
<text x="699.2" y="1531.5" font-size="35" font-weight="bold" text-anchor="middle" fill="#000">IgG1</text>
<polygon points="605.2,1999.74 612.65,1985.56 597.75,1985.56" fill="#333333" stroke="#333333" stroke-width="1.3" stroke-linejoin="round"/>
<polygon points="618.3,1992.14 625.75,1977.96 610.85,1977.96" fill="#333333" stroke="#333333" stroke-width="1.3" stroke-linejoin="round"/>
<polygon points="631.6,1999.74 639.05,1985.56 624.15,1985.56" fill="#333333" stroke="#333333" stroke-width="1.3" stroke-linejoin="round"/>
<polygon points="672.3,1932.86 679.75,1947.04 664.85,1947.04" fill="#4c9cf3" stroke="#4c9cf3" stroke-width="1.3" stroke-linejoin="round"/>
<polygon points="660.5,1948.66 667.95,1962.84 653.05,1962.84" fill="#4c9cf3" stroke="#4c9cf3" stroke-width="1.3" stroke-linejoin="round"/>
<polygon points="684.1,1946.96 691.55,1961.14 676.65,1961.14" fill="#4c9cf3" stroke="#4c9cf3" stroke-width="1.3" stroke-linejoin="round"/>
<rect x="719.25" y="1927.65" width="14.3" height="14.3" rx="1.2" fill="#5656f6" stroke="#4b4be2" stroke-width="1.1" stroke-linejoin="round"/>
<rect x="708.15" y="1951.55" width="14.3" height="14.3" rx="1.2" fill="#5656f6" stroke="#4b4be2" stroke-width="1.1" stroke-linejoin="round"/>
<rect x="730.85" y="1947.75" width="14.3" height="14.3" rx="1.2" fill="#5656f6" stroke="#4b4be2" stroke-width="1.1" stroke-linejoin="round"/>
<circle cx="780.7" cy="1655.7" r="7.15" fill="#0b0bc6" stroke="#0a0a9c" stroke-width="1.1" stroke-linejoin="round"/>
<circle cx="769.4" cy="1913.9" r="7.15" fill="#0b0bc6" stroke="#0a0a9c" stroke-width="1.1" stroke-linejoin="round"/>
<circle cx="792.5" cy="1913.9" r="7.15" fill="#0b0bc6" stroke="#0a0a9c" stroke-width="1.1" stroke-linejoin="round"/>
<polyline points="617.8,1587.7 617.8,1577.7 780.7,1577.7 780.7,1587.7" fill="none" stroke="#000" stroke-width="2.8"/>
<text x="699.25" y="1566.4" font-size="19" font-weight="normal" text-anchor="middle" fill="#000">ns</text>
<polyline points="617.8,1614.6 617.8,1604.1 726.4,1604.1 726.4,1614.6" fill="none" stroke="#000" stroke-width="2.8"/>
<text x="672.75" y="1600.72" font-size="21" font-weight="bold" letter-spacing="1.3" font-family="'DejaVu Sans', sans-serif" text-anchor="middle">**</text>
<polyline points="617.8,1644 617.8,1632.5 672.2,1632.5 672.2,1644" fill="none" stroke="#000" stroke-width="2.8"/>
<text x="645.65" y="1628.92" font-size="21" font-weight="bold" letter-spacing="1.3" font-family="'DejaVu Sans', sans-serif" text-anchor="middle">**</text>
<g transform="translate(626.3 2055.3) rotate(-45)"><text x="0" y="0" font-size="27" font-weight="bold" text-anchor="end">PBS D112</text></g>
<g transform="translate(680.7 2055.3) rotate(-45)"><text x="0" y="0" font-size="27" font-weight="bold" text-anchor="end">Cas9<tspan font-weight="normal" font-size="21" dy="-13">gRNA</tspan><tspan dy="13" dx="0.5">+</tspan><tspan dx="4">Donor D37</tspan></text></g>
<g transform="translate(734.9 2055.3) rotate(-45)"><text x="0" y="0" font-size="27" font-weight="bold" text-anchor="end">Cas9<tspan font-weight="normal" font-size="21" dy="-13">gRNA</tspan><tspan dy="13" dx="0.5">+</tspan><tspan dx="4">Donor D97</tspan></text></g>
<g transform="translate(789.2 2055.3) rotate(-45)"><text x="0" y="0" font-size="27" font-weight="bold" text-anchor="end">Cas9<tspan font-weight="normal" font-size="21" dy="-13">gRNA</tspan><tspan dy="13" dx="0.5">+</tspan><tspan dx="4">Donor D112</tspan></text></g>
<path d="M1015.6 2021.3V1967H1046.2V2021.3" fill="none" stroke="#686868" stroke-width="2.6" stroke-linejoin="miter"/>
<path d="M1069.3 2021.3V1851.3H1099.9V2021.3" fill="none" stroke="#4592ea" stroke-width="2.6" stroke-linejoin="miter"/>
<path d="M1123.7 2021.3V1822.1H1154.3V2021.3" fill="none" stroke="#0a12e2" stroke-width="2.6" stroke-linejoin="miter"/>
<path d="M1178 2021.3V1743.6H1208.6V2021.3" fill="none" stroke="#0b0b7c" stroke-width="2.6" stroke-linejoin="miter"/>
<line x1="994.1" y1="1574.8" x2="994.1" y2="2021.3" stroke="#000" stroke-width="3" stroke-linecap="butt"/>
<line x1="985.1" y1="2021.3" x2="1230.9" y2="2021.3" stroke="#000" stroke-width="3" stroke-linecap="butt"/>
<line x1="1030.9" y1="2021.3" x2="1030.9" y2="2031.3" stroke="#000" stroke-width="3" stroke-linecap="butt"/>
<line x1="1084.6" y1="2021.3" x2="1084.6" y2="2031.3" stroke="#000" stroke-width="3" stroke-linecap="butt"/>
<line x1="1139" y1="2021.3" x2="1139" y2="2031.3" stroke="#000" stroke-width="3" stroke-linecap="butt"/>
<line x1="1193.3" y1="2021.3" x2="1193.3" y2="2031.3" stroke="#000" stroke-width="3" stroke-linecap="butt"/>
<line x1="985.1" y1="1574.8" x2="994.1" y2="1574.8" stroke="#000" stroke-width="3" stroke-linecap="butt"/>
<text x="983.1" y="1584.4" font-size="26" font-weight="bold" text-anchor="end">8×10<tspan font-size="16.5" dx="3.2" dy="-7.5">4</tspan></text>
<line x1="989.1" y1="1631" x2="994.1" y2="1631" stroke="#000" stroke-width="3" stroke-linecap="butt"/>
<line x1="985.1" y1="1687" x2="994.1" y2="1687" stroke="#000" stroke-width="3" stroke-linecap="butt"/>
<text x="983.1" y="1696.6" font-size="26" font-weight="bold" text-anchor="end">6×10<tspan font-size="16.5" dx="3.2" dy="-7.5">4</tspan></text>
<line x1="989.1" y1="1742.6" x2="994.1" y2="1742.6" stroke="#000" stroke-width="3" stroke-linecap="butt"/>
<line x1="985.1" y1="1798" x2="994.1" y2="1798" stroke="#000" stroke-width="3" stroke-linecap="butt"/>
<text x="983.1" y="1807.6" font-size="26" font-weight="bold" text-anchor="end">4×10<tspan font-size="16.5" dx="3.2" dy="-7.5">4</tspan></text>
<line x1="989.1" y1="1853.7" x2="994.1" y2="1853.7" stroke="#000" stroke-width="3" stroke-linecap="butt"/>
<line x1="985.1" y1="1909.7" x2="994.1" y2="1909.7" stroke="#000" stroke-width="3" stroke-linecap="butt"/>
<text x="983.1" y="1919.3" font-size="26" font-weight="bold" text-anchor="end">2×10<tspan font-size="16.5" dx="3.2" dy="-7.5">4</tspan></text>
<line x1="989.1" y1="1965.4" x2="994.1" y2="1965.4" stroke="#000" stroke-width="3" stroke-linecap="butt"/>
<text x="979.1" y="2030.9" font-size="26" font-weight="bold" text-anchor="end" fill="#000">0</text>
<g transform="translate(894.1 1790.5) rotate(-90)"><text x="0" y="0" font-size="37" font-weight="bold" text-anchor="middle">AUC</text></g>
<text x="1114.1" y="1531.5" font-size="35" font-weight="bold" text-anchor="middle" fill="#000">IgG2c</text>
<polygon points="1018.2,1975.14 1025.65,1960.96 1010.75,1960.96" fill="#686868" stroke="#686868" stroke-width="1.3" stroke-linejoin="round"/>
<polygon points="1030.9,1972.14 1038.35,1957.96 1023.45,1957.96" fill="#686868" stroke="#686868" stroke-width="1.3" stroke-linejoin="round"/>
<polygon points="1043.4,1975.14 1050.85,1960.96 1035.95,1960.96" fill="#686868" stroke="#686868" stroke-width="1.3" stroke-linejoin="round"/>
<polygon points="1084.6,1802.86 1092.05,1817.04 1077.15,1817.04" fill="#4c9cf3" stroke="#4c9cf3" stroke-width="1.3" stroke-linejoin="round"/>
<polygon points="1084.6,1836.16 1092.05,1850.34 1077.15,1850.34" fill="#4c9cf3" stroke="#4c9cf3" stroke-width="1.3" stroke-linejoin="round"/>
<polygon points="1084.6,1891.46 1092.05,1905.64 1077.15,1905.64" fill="#4c9cf3" stroke="#4c9cf3" stroke-width="1.3" stroke-linejoin="round"/>
<rect x="1131.85" y="1736.45" width="14.3" height="14.3" rx="1.2" fill="#0c16f4" stroke="#0a12e2" stroke-width="1.1" stroke-linejoin="round"/>
<rect x="1131.85" y="1831.65" width="14.3" height="14.3" rx="1.2" fill="#0c16f4" stroke="#0a12e2" stroke-width="1.1" stroke-linejoin="round"/>
<rect x="1131.85" y="1869.95" width="14.3" height="14.3" rx="1.2" fill="#0c16f4" stroke="#0a12e2" stroke-width="1.1" stroke-linejoin="round"/>
<circle cx="1193.3" cy="1692.7" r="7.15" fill="#0d0d8e" stroke="#0b0b7c" stroke-width="1.1" stroke-linejoin="round"/>
<circle cx="1181.8" cy="1770.4" r="7.15" fill="#0d0d8e" stroke="#0b0b7c" stroke-width="1.1" stroke-linejoin="round"/>
<circle cx="1205" cy="1761.8" r="7.15" fill="#0d0d8e" stroke="#0b0b7c" stroke-width="1.1" stroke-linejoin="round"/>
<polyline points="1030.9,1587.7 1030.9,1577.4 1193.3,1577.4 1193.3,1587.7" fill="none" stroke="#000" stroke-width="2.8"/>
<text x="1112.75" y="1574.32" font-size="21" font-weight="bold" letter-spacing="1.3" font-family="'DejaVu Sans', sans-serif" text-anchor="middle">***</text>
<polyline points="1030.9,1613.9 1030.9,1604.2 1139,1604.2 1139,1613.9" fill="none" stroke="#000" stroke-width="2.8"/>
<text x="1085.6" y="1600.52" font-size="21" font-weight="bold" letter-spacing="1.3" font-family="'DejaVu Sans', sans-serif" text-anchor="middle">*</text>
<polyline points="1030.9,1643.8 1030.9,1631.7 1084.6,1631.7 1084.6,1643.8" fill="none" stroke="#000" stroke-width="2.8"/>
<text x="1058.4" y="1628.02" font-size="21" font-weight="bold" letter-spacing="1.3" font-family="'DejaVu Sans', sans-serif" text-anchor="middle">**</text>
<g transform="translate(1039.4 2055.3) rotate(-45)"><text x="0" y="0" font-size="27" font-weight="bold" text-anchor="end">PBS D127</text></g>
<g transform="translate(1093.1 2055.3) rotate(-45)"><text x="0" y="0" font-size="27" font-weight="bold" text-anchor="end">Cas9<tspan font-weight="normal" font-size="21" dy="-13">gRNA</tspan><tspan dy="13" dx="0.5">+</tspan><tspan dx="4">Donor D37</tspan></text></g>
<g transform="translate(1147.5 2055.3) rotate(-45)"><text x="0" y="0" font-size="27" font-weight="bold" text-anchor="end">Cas9<tspan font-weight="normal" font-size="21" dy="-13">gRNA</tspan><tspan dy="13" dx="0.5">+</tspan><tspan dx="4">Donor D82</tspan></text></g>
<g transform="translate(1201.8 2055.3) rotate(-45)"><text x="0" y="0" font-size="27" font-weight="bold" text-anchor="end">Cas9<tspan font-weight="normal" font-size="21" dy="-13">gRNA</tspan><tspan dy="13" dx="0.5">+</tspan><tspan dx="4">Donor D127</tspan></text></g>
<path d="M1430.5 2021.3V1791.4H1461.1V2021.3" fill="none" stroke="#333333" stroke-width="2.6" stroke-linejoin="miter"/>
<path d="M1484.8 2021.3V1762.5H1515.4V2021.3" fill="none" stroke="#4592ea" stroke-width="2.6" stroke-linejoin="miter"/>
<path d="M1538.8 2021.3V1757.5H1569.4V2021.3" fill="none" stroke="#4b4be2" stroke-width="2.6" stroke-linejoin="miter"/>
<path d="M1592.9 2021.3V1694.6H1623.5V2021.3" fill="none" stroke="#0a0a9c" stroke-width="2.6" stroke-linejoin="miter"/>
<line x1="1410.1" y1="1574.8" x2="1410.1" y2="2021.3" stroke="#000" stroke-width="3" stroke-linecap="butt"/>
<line x1="1401.1" y1="2021.3" x2="1645.9" y2="2021.3" stroke="#000" stroke-width="3" stroke-linecap="butt"/>
<line x1="1445.8" y1="2021.3" x2="1445.8" y2="2031.3" stroke="#000" stroke-width="3" stroke-linecap="butt"/>
<line x1="1500.1" y1="2021.3" x2="1500.1" y2="2031.3" stroke="#000" stroke-width="3" stroke-linecap="butt"/>
<line x1="1554.1" y1="2021.3" x2="1554.1" y2="2031.3" stroke="#000" stroke-width="3" stroke-linecap="butt"/>
<line x1="1608.2" y1="2021.3" x2="1608.2" y2="2031.3" stroke="#000" stroke-width="3" stroke-linecap="butt"/>
<line x1="1401.1" y1="1574.8" x2="1410.1" y2="1574.8" stroke="#000" stroke-width="3" stroke-linecap="butt"/>
<text x="1399.1" y="1584.4" font-size="26" font-weight="bold" text-anchor="end">8×10<tspan font-size="16.5" dx="3.2" dy="-7.5">4</tspan></text>
<line x1="1405.1" y1="1631" x2="1410.1" y2="1631" stroke="#000" stroke-width="3" stroke-linecap="butt"/>
<line x1="1401.1" y1="1687" x2="1410.1" y2="1687" stroke="#000" stroke-width="3" stroke-linecap="butt"/>
<text x="1399.1" y="1696.6" font-size="26" font-weight="bold" text-anchor="end">6×10<tspan font-size="16.5" dx="3.2" dy="-7.5">4</tspan></text>
<line x1="1405.1" y1="1742.6" x2="1410.1" y2="1742.6" stroke="#000" stroke-width="3" stroke-linecap="butt"/>
<line x1="1401.1" y1="1798" x2="1410.1" y2="1798" stroke="#000" stroke-width="3" stroke-linecap="butt"/>
<text x="1399.1" y="1807.6" font-size="26" font-weight="bold" text-anchor="end">4×10<tspan font-size="16.5" dx="3.2" dy="-7.5">4</tspan></text>
<line x1="1405.1" y1="1853.7" x2="1410.1" y2="1853.7" stroke="#000" stroke-width="3" stroke-linecap="butt"/>
<line x1="1401.1" y1="1909.7" x2="1410.1" y2="1909.7" stroke="#000" stroke-width="3" stroke-linecap="butt"/>
<text x="1399.1" y="1919.3" font-size="26" font-weight="bold" text-anchor="end">2×10<tspan font-size="16.5" dx="3.2" dy="-7.5">4</tspan></text>
<line x1="1405.1" y1="1965.4" x2="1410.1" y2="1965.4" stroke="#000" stroke-width="3" stroke-linecap="butt"/>
<text x="1395.1" y="2030.9" font-size="26" font-weight="bold" text-anchor="end" fill="#000">0</text>
<g transform="translate(1310.1 1790.5) rotate(-90)"><text x="0" y="0" font-size="37" font-weight="bold" text-anchor="middle">AUC</text></g>
<text x="1528" y="1531.5" font-size="35" font-weight="bold" text-anchor="middle" fill="#000">IgA</text>
<polygon points="1433.9,1803.64 1441.35,1789.46 1426.45,1789.46" fill="#333333" stroke="#333333" stroke-width="1.3" stroke-linejoin="round"/>
<polygon points="1445.8,1789.74 1453.25,1775.56 1438.35,1775.56" fill="#333333" stroke="#333333" stroke-width="1.3" stroke-linejoin="round"/>
<polygon points="1457.3,1796.04 1464.75,1781.86 1449.85,1781.86" fill="#333333" stroke="#333333" stroke-width="1.3" stroke-linejoin="round"/>
<polygon points="1488,1744.06 1495.45,1758.24 1480.55,1758.24" fill="#4c9cf3" stroke="#4c9cf3" stroke-width="1.3" stroke-linejoin="round"/>
<polygon points="1511.9,1745.36 1519.35,1759.54 1504.45,1759.54" fill="#4c9cf3" stroke="#4c9cf3" stroke-width="1.3" stroke-linejoin="round"/>
<polygon points="1500.1,1772.96 1507.55,1787.14 1492.65,1787.14" fill="#4c9cf3" stroke="#4c9cf3" stroke-width="1.3" stroke-linejoin="round"/>
<rect x="1535.65" y="1751.65" width="14.3" height="14.3" rx="1.2" fill="#5656f6" stroke="#4b4be2" stroke-width="1.1" stroke-linejoin="round"/>
<rect x="1546.95" y="1745.35" width="14.3" height="14.3" rx="1.2" fill="#5656f6" stroke="#4b4be2" stroke-width="1.1" stroke-linejoin="round"/>
<rect x="1558.85" y="1750.35" width="14.3" height="14.3" rx="1.2" fill="#5656f6" stroke="#4b4be2" stroke-width="1.1" stroke-linejoin="round"/>
<circle cx="1608.2" cy="1620.5" r="7.15" fill="#0b0bc6" stroke="#0a0a9c" stroke-width="1.1" stroke-linejoin="round"/>
<circle cx="1608.2" cy="1716" r="7.15" fill="#0b0bc6" stroke="#0a0a9c" stroke-width="1.1" stroke-linejoin="round"/>
<circle cx="1608.2" cy="1742.4" r="7.15" fill="#0b0bc6" stroke="#0a0a9c" stroke-width="1.1" stroke-linejoin="round"/>
<polyline points="1445.8,1587.3 1445.8,1576.5 1608.2,1576.5 1608.2,1587.3" fill="none" stroke="#000" stroke-width="2.8"/>
<text x="1527" y="1565.8" font-size="19" font-weight="normal" text-anchor="middle" fill="#000">ns</text>
<polyline points="1445.8,1612.4 1445.8,1602.4 1554.1,1602.4 1554.1,1612.4" fill="none" stroke="#000" stroke-width="2.8"/>
<text x="1500.6" y="1598.72" font-size="21" font-weight="bold" letter-spacing="1.3" font-family="'DejaVu Sans', sans-serif" text-anchor="middle">**</text>
<polyline points="1445.8,1640.6 1445.8,1630.5 1500.1,1630.5 1500.1,1640.6" fill="none" stroke="#000" stroke-width="2.8"/>
<text x="1473.6" y="1625.92" font-size="21" font-weight="bold" letter-spacing="1.3" font-family="'DejaVu Sans', sans-serif" text-anchor="middle">*</text>
<g transform="translate(1454.3 2055.3) rotate(-45)"><text x="0" y="0" font-size="27" font-weight="bold" text-anchor="end">PBS D112</text></g>
<g transform="translate(1508.6 2055.3) rotate(-45)"><text x="0" y="0" font-size="27" font-weight="bold" text-anchor="end">Cas9<tspan font-weight="normal" font-size="21" dy="-13">gRNA</tspan><tspan dy="13" dx="0.5">+</tspan><tspan dx="4">Donor D37</tspan></text></g>
<g transform="translate(1562.6 2055.3) rotate(-45)"><text x="0" y="0" font-size="27" font-weight="bold" text-anchor="end">Cas9<tspan font-weight="normal" font-size="21" dy="-13">gRNA</tspan><tspan dy="13" dx="0.5">+</tspan><tspan dx="4">Donor D97</tspan></text></g>
<g transform="translate(1616.7 2055.3) rotate(-45)"><text x="0" y="0" font-size="27" font-weight="bold" text-anchor="end">Cas9<tspan font-weight="normal" font-size="21" dy="-13">gRNA</tspan><tspan dy="13" dx="0.5">+</tspan><tspan dx="4">Donor D112</tspan></text></g>
<line x1="1851.2" y1="1571" x2="1851.2" y2="2021.3" stroke="#000" stroke-width="3" stroke-linecap="butt"/>
<line x1="1840.2" y1="2021.3" x2="2126" y2="2021.3" stroke="#000" stroke-width="3" stroke-linecap="butt"/>
<line x1="1929" y1="2021.3" x2="1929" y2="2031.3" stroke="#000" stroke-width="3" stroke-linecap="butt"/>
<line x1="2045.6" y1="2021.3" x2="2045.6" y2="2031.3" stroke="#000" stroke-width="3" stroke-linecap="butt"/>
<line x1="1840.2" y1="1571" x2="1851.2" y2="1571" stroke="#000" stroke-width="3" stroke-linecap="butt"/>
<text x="1835.7" y="1579.6" font-size="24.5" font-weight="bold" text-anchor="end" fill="#000">1.5</text>
<line x1="1840.2" y1="1721.2" x2="1851.2" y2="1721.2" stroke="#000" stroke-width="3" stroke-linecap="butt"/>
<text x="1835.7" y="1729.8" font-size="24.5" font-weight="bold" text-anchor="end" fill="#000">1.0</text>
<line x1="1840.2" y1="1871.5" x2="1851.2" y2="1871.5" stroke="#000" stroke-width="3" stroke-linecap="butt"/>
<text x="1835.7" y="1880.1" font-size="24.5" font-weight="bold" text-anchor="end" fill="#000">0.5</text>
<text x="1835.7" y="2029.9" font-size="24.5" font-weight="bold" text-anchor="end" fill="#000">0.0</text>
<g transform="translate(1740.1 1808.7) rotate(-90)"><text x="0" y="0" font-size="34" font-weight="bold" text-anchor="middle">% 3BNC117 IgG</text></g>
<g transform="translate(1779.3 1804) rotate(-90)"><text x="0" y="0" font-size="34" font-weight="bold" text-anchor="middle">out of gp120 binding</text></g>
<line x1="1890.5" y1="2002" x2="1968" y2="2002" stroke="#000" stroke-width="3" stroke-linecap="butt"/>
<line x1="2006.6" y1="1709.6" x2="2084.4" y2="1709.6" stroke="#000" stroke-width="3" stroke-linecap="butt"/>
<polygon points="1940.6,1964 1934.8,1974.45 1923.2,1974.45 1917.4,1964 1923.2,1953.55 1934.8,1953.55" fill="#a80000" stroke="#6e0000" stroke-width="1.3" stroke-linejoin="round"/>
<polygon points="1912.7,2021.3 1906.9,2031.75 1895.3,2031.75 1889.5,2021.3 1895.3,2010.85 1906.9,2010.85" fill="#a80000" stroke="#6e0000" stroke-width="1.3" stroke-linejoin="round"/>
<polygon points="1968.5,2021.3 1962.7,2031.75 1951.1,2031.75 1945.3,2021.3 1951.1,2010.85 1962.7,2010.85" fill="#a80000" stroke="#6e0000" stroke-width="1.3" stroke-linejoin="round"/>
<polygon points="2045.5,1649.8 2056.6,1660.9 2045.5,1672 2034.4,1660.9" fill="#1a9bb6" stroke="#137c92" stroke-width="1.3" stroke-linejoin="round"/>
<polygon points="2017.8,1723.8 2028.9,1734.9 2017.8,1746 2006.7,1734.9" fill="#1a9bb6" stroke="#137c92" stroke-width="1.3" stroke-linejoin="round"/>
<polygon points="2073.6,1722.4 2084.7,1733.5 2073.6,1744.6 2062.5,1733.5" fill="#1a9bb6" stroke="#137c92" stroke-width="1.3" stroke-linejoin="round"/>
<polyline points="1929,1643.8 1929,1628.3 2045.6,1628.3 2045.6,1643.8" fill="none" stroke="#000" stroke-width="2.8"/>
<text x="1988.3" y="1623.64" font-size="27" font-weight="bold" letter-spacing="2" font-family="'DejaVu Sans', sans-serif" text-anchor="middle">***</text>
<g transform="translate(1937.5 2055.3) rotate(-45)"><text x="0" y="0" font-size="26.5" font-weight="bold" text-anchor="end">Donor<tspan font-weight="normal" font-size="20" dy="-13" dx="1">gRNA</tspan></text></g>
<g transform="translate(2054.1 2055.3) rotate(-45)"><text x="0" y="0" font-size="26.5" font-weight="bold" text-anchor="end">CMV-Cas9<tspan font-weight="normal" font-size="20" dy="-13" dx="1">gRNA</tspan><tspan dy="13"> + Donor</tspan></text></g>
</svg></body></html>
